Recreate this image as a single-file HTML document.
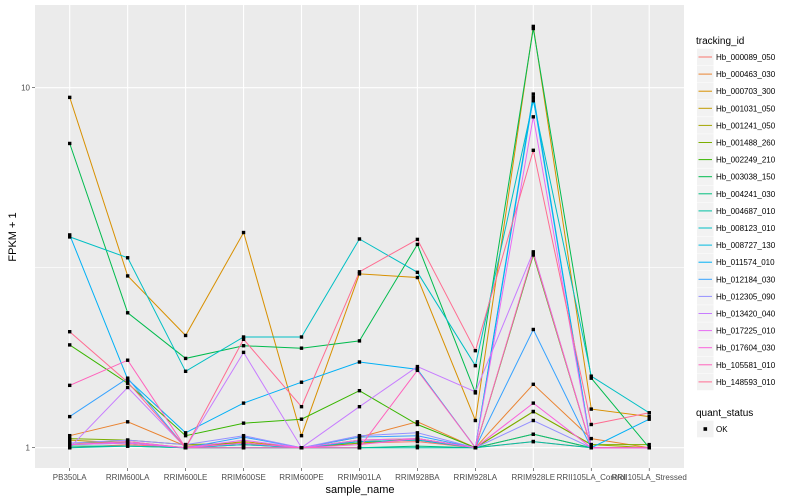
<!DOCTYPE html>
<html><head><meta charset="utf-8"><style>
body{margin:0;background:#fff;}
svg{display:block;font-family:"Liberation Sans",sans-serif;}
</style></head><body>
<svg id="chart" width="800" height="500">
<rect x="35" y="5" width="649" height="463" fill="#EBEBEB"/>
<g id="grid"></g><g id="lines"></g><g id="pts"></g><g id="axes"></g><g id="legend"></g>
<text x="360" y="493" font-size="11" text-anchor="middle" fill="#000">sample_name</text>
<text x="16" y="237" font-size="11" text-anchor="middle" fill="#000" transform="rotate(-90 16 237)">FPKM + 1</text>
</svg>
<script>
const categories=["PB350LA","RRIM600LA","RRIM600LE","RRIM600SE","RRIM600PE","RRIM901LA","RRIM928BA","RRIM928LA","RRIM928LE","RRII105LA_Control","RRII105LA_Stressed"];
const seriesNames=["Hb_000089_050","Hb_000463_030","Hb_000703_300","Hb_001031_050","Hb_001241_050","Hb_001488_260","Hb_002249_210","Hb_003038_150","Hb_004241_030","Hb_004687_010","Hb_008123_010","Hb_008727_130","Hb_011574_010","Hb_012184_030","Hb_012305_090","Hb_013420_040","Hb_017225_010","Hb_017604_030","Hb_105581_010","Hb_148593_010"];
const seriesColors=["#F8766D","#EA8331","#D89000","#C09B00","#A3A500","#7CAE00","#39B600","#00BB4E","#00BF7D","#00C1A3","#00BFC4","#00BAE0","#00B0F6","#35A2FF","#9590FF","#C77CFF","#E76BF3","#FA62DB","#FF62BC","#FF6C91"];
const s00=[1.0,1.02,1.0,1.02,1.0,1.03,1.04,1.0,1.04,1.0,1.0];
const s01=[1.08,1.18,1.01,1.03,1.0,1.07,1.18,1.0,1.5,1.06,1.0];
const s02=[9.4,3.0,2.05,3.96,1.08,3.04,2.97,1.19,14.8,1.28,1.22];
const s03=[1.05,1.03,1.0,1.04,1.0,1.05,1.06,1.0,1.09,1.0,1.0];
const s04=[1.03,1.04,1.0,1.02,1.0,1.04,1.05,1.0,1.26,1.02,1.0];
const s05=[1.06,1.05,1.02,1.03,1.0,1.03,1.06,1.0,1.26,1.02,1.02];
const s06=[1.93,1.51,1.08,1.17,1.2,1.44,1.16,1.0,3.43,1.0,1.0];
const s07=[7.0,2.37,1.77,1.92,1.89,1.98,3.67,1.42,14.6,1.56,1.0];
const s08=[1.01,1.01,1.0,1.0,1.0,1.0,1.01,1.0,1.09,1.0,1.0];
const s09=[1.0,1.01,1.0,1.0,1.0,1.0,1.0,1.0,1.04,1.0,1.0];
const s10=[3.85,3.37,1.63,2.03,2.03,3.8,3.07,1.69,9.2,1.58,1.25];
const s11=[1.02,1.03,1.0,1.02,1.0,1.04,1.05,1.0,9.6,1.0,1.0];
const s12=[3.9,1.55,1.1,1.33,1.52,1.73,1.65,1.0,9.4,1.0,1.2];
const s13=[1.22,1.56,1.0,1.07,1.0,1.07,1.08,1.0,2.13,1.0,1.0];
const s14=[1.03,1.05,1.02,1.08,1.0,1.08,1.1,1.0,1.19,1.0,1.0];
const s15=[1.0,1.47,1.0,1.84,1.0,1.3,1.68,1.43,3.5,1.0,1.0];
const s16=[1.02,1.03,1.0,1.05,1.0,1.05,1.06,1.0,8.3,1.0,1.0];
const s17=[1.02,1.04,1.0,1.03,1.0,1.02,1.06,1.0,1.33,1.0,1.0];
const s18=[1.49,1.75,1.0,1.0,1.0,1.0,1.64,1.0,3.47,1.0,1.0];
const s19=[2.1,1.52,1.0,2.0,1.3,3.08,3.79,1.86,6.7,1.16,1.25];
const seriesValues=[s00,s01,s02,s03,s04,s05,s06,s07,s08,s09,s10,s11,s12,s13,s14,s15,s16,s17,s18,s19];
const yTicks=[1,10];
const yMinor=[Math.sqrt(10)];

const NS="http://www.w3.org/2000/svg";
function mk(tag,attrs,parent){const e=document.createElementNS(NS,tag);for(const k in attrs)e.setAttribute(k,attrs[k]);parent.appendChild(e);return e;}
function xs(i){return 69.7+i*57.95;}
function ys(v){return 447.7-Math.log10(v)*360;}
const grid=document.getElementById('grid'),lines=document.getElementById('lines'),pts=document.getElementById('pts'),axes=document.getElementById('axes'),legend=document.getElementById('legend');
yMinor.forEach(v=>{const l=mk('line',{x1:35,x2:684,y1:ys(v),y2:ys(v),stroke:'#fff','stroke-width':0.6},grid);

});
yTicks.forEach(v=>{const l=mk('line',{x1:35,x2:684,y1:ys(v),y2:ys(v),stroke:'#fff','stroke-width':1.1},grid);


const t=mk('text',{x:30,y:ys(v)+3,'font-size':8,'text-anchor':'end',fill:'#4D4D4D'},axes);t.textContent=String(v);


mk('line',{x1:32,x2:35,y1:ys(v),y2:ys(v),stroke:'#333','stroke-width':0.6},axes);});
categories.forEach((c,i)=>{const l=mk('line',{x1:xs(i),x2:xs(i),y1:5,y2:468,stroke:'#fff','stroke-width':1.1},grid);


mk('line',{x1:xs(i),x2:xs(i),y1:468,y2:471,stroke:'#333','stroke-width':0.6},axes);
const t=mk('text',{x:xs(i),y:480,'font-size':8,'text-anchor':'middle',fill:'#4D4D4D'},axes);t.textContent=c;

});
seriesValues.forEach((vals,s)=>{const d=vals.map((v,i)=>(i?'L':'M')+xs(i).toFixed(1)+' '+ys(v).toFixed(1)).join(' ');
const p=mk('path',{d:d,fill:'none',stroke:seriesColors[s],'stroke-width':1},lines);


vals.forEach((v,i)=>{const r=mk('rect',{x:xs(i)-1.7,y:ys(v)-1.7,width:3.4,height:3.4,fill:'#000'},pts);

});});
// legend
const lt=mk('text',{x:696,y:44,'font-size':10,fill:'#000'},legend);lt.textContent='tracking_id';


seriesNames.forEach((n,s)=>{const cy=57+s*17.1;
const g=mk('g',{},legend);


mk('rect',{x:697,y:cy-8.3,width:16.6,height:16.6,fill:'#F2F2F2'},g);
mk('line',{x1:698.5,x2:712,y1:cy,y2:cy,stroke:seriesColors[s],'stroke-width':1},g);
const t=mk('text',{x:716,y:cy+3,'font-size':8,fill:'#000'},g);t.textContent=n;});
const qt=mk('text',{x:696,y:416,'font-size':10,fill:'#000'},legend);qt.textContent='quant_status';


const qg=mk('g',{},legend);


mk('rect',{x:697,y:420.7,width:16.6,height:16.6,fill:'#F2F2F2'},qg);
mk('rect',{x:703.5,y:427.2,width:3.6,height:3.6,fill:'#000'},qg);
const qtx=mk('text',{x:716,y:432,'font-size':8,fill:'#000'},qg);qtx.textContent='OK';
</script>
</body></html>
